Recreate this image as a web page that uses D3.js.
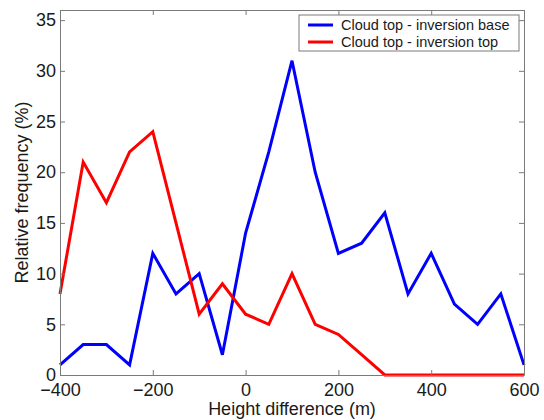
<!DOCTYPE html>
<html>
<head>
<meta charset="utf-8">
<script src="https://cdn.jsdelivr.net/npm/d3@7"></script>
<style>
  body { margin: 0; background: #fff; }
  text { font-family: "Liberation Sans", Arial, sans-serif; fill: #1a1a1a; }
</style>
</head>
<body>
<div id="chart"></div>
<script>
// height difference bins (m)
const heights = [-400, -350, -300, -250, -200, -150, -100, -50, 0, 50, 100, 150, 200, 250, 300, 350, 400, 450, 500, 550, 600];
// relative frequency (%)
const invBase = [1, 3, 3, 1, 12, 8, 10, 2, 14, 22, 31, 20, 12, 13, 16, 8, 12, 7, 5, 8, 1];
const invTop = [8, 21, 17, 22, 24, 15, 6, 9, 6, 5, 10, 5, 4, 2, 0, 0, 0, 0, 0, 0, 0];
const xTicks = [-400, -200, 0, 200, 400, 600];
const yTicks = [0, 5, 10, 15, 20, 25, 30, 35];

const seriesList = [
  { name: "Cloud top - inversion base", values: invBase, color: "#0000ff" },
  { name: "Cloud top - inversion top", values: invTop, color: "#ff0000" }
];

const W = 544, H = 420;
const margin = { top: 10, right: 20, bottom: 45, left: 60 };
const width = W - margin.left - margin.right;
const height = H - margin.top - margin.bottom;

const x = d3.scaleLinear().domain([-400, 600]).range([0, width]);
const y = d3.scaleLinear().domain([0, 36]).range([height, 0]);

const svg = d3.select("#chart").append("svg")
  .attr("width", W).attr("height", H);
const g = svg.append("g")
  .attr("transform", "translate(" + margin.left + "," + margin.top + ")");

// lines
const line = d3.line()
  .x((d, i) => x(heights[i]))
  .y(d => y(d));

seriesList.forEach(s => {
  g.append("path")
    .datum(s.values)
    .attr("fill", "none")
    .attr("stroke", s.color)
    .attr("stroke-width", 3)
    .attr("stroke-linejoin", "miter")
    .attr("d", line);
});

// axes, ticks pointing inward on all sides
function styleAxis(sel) {
  sel.selectAll("path, line").attr("stroke", "#7a7a7a");
  sel.selectAll("text").style("font-size", "18px").attr("fill", "#1a1a1a");
}

g.append("g")
  .attr("transform", "translate(0," + height + ")")
  .call(d3.axisBottom(x).tickValues(xTicks).tickSize(-5).tickSizeOuter(0).tickPadding(8))
  .call(styleAxis);

g.append("g")
  .call(d3.axisLeft(y).tickValues(yTicks).tickSize(-5).tickSizeOuter(0).tickPadding(4))
  .call(styleAxis);

g.append("g")
  .call(d3.axisTop(x).tickValues(xTicks).tickSize(-5).tickSizeOuter(0).tickFormat(""))
  .call(styleAxis);

g.append("g")
  .attr("transform", "translate(" + width + ",0)")
  .call(d3.axisRight(y).tickValues(yTicks).tickSize(-5).tickSizeOuter(0).tickFormat(""))
  .call(styleAxis);

// axis titles
svg.append("text")
  .attr("x", margin.left + width / 2)
  .attr("y", 415)
  .attr("text-anchor", "middle")
  .style("font-size", "18px")
  .text("Height difference (m)");

svg.append("text")
  .attr("transform", "rotate(-90)")
  .attr("x", -(margin.top + height / 2))
  .attr("y", 28)
  .attr("text-anchor", "middle")
  .style("font-size", "18px")
  .text("Relative frequency (%)");

// legend
const legend = svg.append("g").attr("transform", "translate(299,15)");
legend.append("rect")
  .attr("width", 220).attr("height", 36)
  .attr("fill", "#fff").attr("stroke", "#7a7a7a");
seriesList.forEach((s, i) => {
  const row = legend.append("g").attr("transform", "translate(0," + (10 + i * 17) + ")");
  row.append("line")
    .attr("x1", 9).attr("x2", 34)
    .attr("stroke", s.color).attr("stroke-width", 3);
  row.append("text")
    .attr("x", 42).attr("dy", "0.35em")
    .style("font-size", "14.5px")
    .text(s.name);
});
</script>
</body>
</html>
